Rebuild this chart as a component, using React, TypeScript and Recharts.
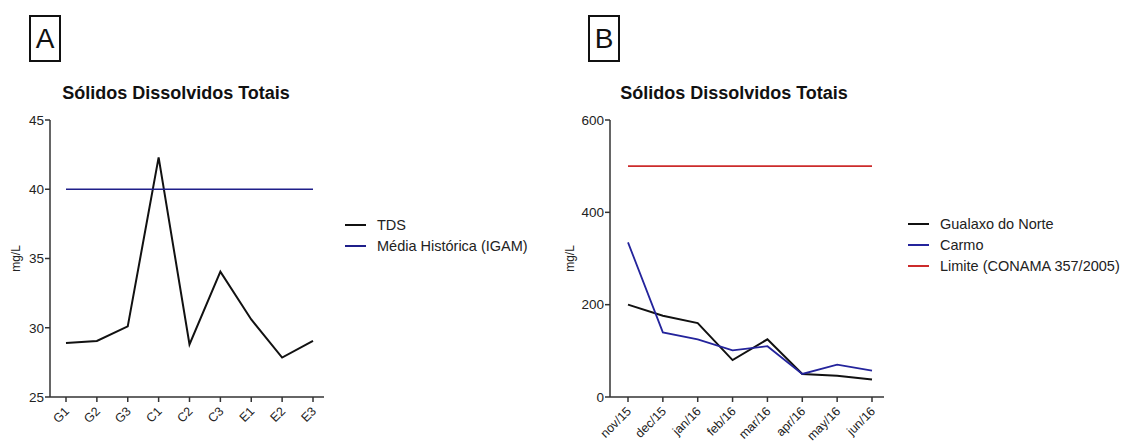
import { CartesianGrid, Legend, Line, LineChart, XAxis, YAxis } from "recharts";

const sitesA = ["G1", "G2", "G3", "C1", "C2", "C3", "E1", "E2", "E3"];
const tds = [28.9, 29.05, 30.1, 42.3, 28.8, 34.05, 30.6, 27.85, 29.05];
const mediaHistorica = 40;
const ticksA = [25, 30, 35, 40, 45];

const monthsB = ["nov/15", "dec/15", "jan/16", "feb/16", "mar/16", "apr/16", "may/16", "jun/16"];
const gualaxo = [200, 176, 160, 80, 125, 50, 46, 38];
const carmo = [335, 140, 125, 101, 110, 50, 70, 57];
const limiteConama = 500;
const ticksB = [0, 200, 400, 600];

const dataA = sitesA.map((s, i) => ({ site: s, tds: tds[i], media: mediaHistorica }));
const dataB = monthsB.map((m, i) => ({ month: m, gualaxo: gualaxo[i], carmo: carmo[i], limite: limiteConama }));

const font = "'Liberation Sans', Arial, sans-serif";
const axisColor = "#333";
const tick = { fill: "#222", fontSize: 13.5, fontFamily: font };

const legendA = [
  { label: "TDS", color: "#111" },
  { label: "Média Histórica (IGAM)", color: "#1f1f8a" },
];
const legendB = [
  { label: "Gualaxo do Norte", color: "#111" },
  { label: "Carmo", color: "#24249c" },
  { label: "Limite (CONAMA 357/2005)", color: "#cc2b2b" },
];

function RotTick({ x, y, payload }: any) {
  return (
    <g transform={`translate(${x + 4},${y + 8})`}>
      <text x={0} y={0} textAnchor="end" transform="rotate(-45)" fill="#222" fontSize={12.5} fontFamily={font}>
        {payload.value}
      </text>
    </g>
  );
}

function LegendBox({ items }: any) {
  return (
    <div style={{ fontFamily: font, fontSize: 14.5, color: "#222" }}>
      {items.map((p: any) => (
        <div key={p.label} style={{ display: "flex", alignItems: "center", height: 21 }}>
          <span style={{ display: "inline-block", width: 21, height: 2, background: p.color, marginRight: 11 }} />
          <span>{p.label}</span>
        </div>
      ))}
    </div>
  );
}

function PanelTag({ letter, left }: { letter: string; left: number }) {
  return (
    <div
      style={{
        position: "absolute",
        left,
        top: 15,
        width: 28,
        height: 43,
        border: "2px solid #111",
        fontFamily: font,
        fontSize: 28,
        lineHeight: "43px",
        textAlign: "center",
        color: "#111",
      }}
    >
      {letter}
    </div>
  );
}

function Title({ center }: { center: number }) {
  return (
    <div
      style={{
        position: "absolute",
        left: center - 150,
        width: 300,
        top: 83,
        textAlign: "center",
        fontFamily: font,
        fontWeight: "bold",
        fontSize: 18,
        color: "#111",
      }}
    >
      Sólidos Dissolvidos Totais
    </div>
  );
}

export default function App() {
  return (
    <div style={{ position: "absolute", left: 0, top: 0, width: 1126, height: 442, background: "#fff" }}>
      <PanelTag letter="A" left={29} />
      <PanelTag letter="B" left={588} />
      <Title center={176} />
      <Title center={734} />

      <div style={{ position: "absolute", left: 0, top: 0 }}>
        <LineChart width={560} height={442} data={dataA} margin={{ top: 120, right: 236, bottom: 0, left: 0 }}>
          <CartesianGrid stroke="none" />
          <XAxis
            dataKey="site"
            height={45}
            padding={{ left: 16, right: 11 }}
            stroke={axisColor}
            strokeWidth={1.5}
            tickSize={5}
            tick={<RotTick />}
            interval={0}
          />
          <YAxis
            width={50}
            domain={[25, 45]}
            ticks={ticksA}
            stroke={axisColor}
            strokeWidth={1.5}
            tickSize={5}
            tickMargin={1}
            tick={tick}
            label={{ value: "mg/L", angle: -90, position: "center", dx: -9, fill: "#222", fontSize: 12, fontFamily: font }}
          />
          <Legend
            layout="vertical"
            align="center"
            verticalAlign="middle"
            content={<LegendBox items={legendA} />}
            wrapperStyle={{ left: 345, top: 214, width: "auto" }}
          />
          <Line type="linear" dataKey="tds" name="TDS" stroke="#111" strokeWidth={2} dot={false} isAnimationActive={false} />
          <Line
            type="linear"
            dataKey="media"
            name="Média Histórica (IGAM)"
            stroke="#1f1f8a"
            strokeWidth={1.6}
            dot={false}
            isAnimationActive={false}
          />
        </LineChart>
      </div>

      <div style={{ position: "absolute", left: 560, top: 0 }}>
        <LineChart width={566} height={442} data={dataB} margin={{ top: 120, right: 242, bottom: 0, left: 0 }}>
          <CartesianGrid stroke="none" />
          <XAxis
            dataKey="month"
            height={45}
            padding={{ left: 18, right: 12 }}
            stroke={axisColor}
            strokeWidth={1.5}
            tickSize={5}
            tick={<RotTick />}
            interval={0}
          />
          <YAxis
            width={50}
            domain={[0, 600]}
            ticks={ticksB}
            stroke={axisColor}
            strokeWidth={1.5}
            tickSize={5}
            tickMargin={1}
            tick={tick}
            label={{ value: "mg/L", angle: -90, position: "center", dx: -15, fill: "#222", fontSize: 12, fontFamily: font }}
          />
          <Legend
            layout="vertical"
            align="center"
            verticalAlign="middle"
            content={<LegendBox items={legendB} />}
            wrapperStyle={{ left: 348, top: 213, width: "auto" }}
          />
          <Line type="linear" dataKey="gualaxo" name="Gualaxo do Norte" stroke="#111" strokeWidth={2} dot={false} isAnimationActive={false} />
          <Line type="linear" dataKey="carmo" name="Carmo" stroke="#24249c" strokeWidth={1.8} dot={false} isAnimationActive={false} />
          <Line
            type="linear"
            dataKey="limite"
            name="Limite (CONAMA 357/2005)"
            stroke="#cc2b2b"
            strokeWidth={1.8}
            dot={false}
            isAnimationActive={false}
          />
        </LineChart>
      </div>
    </div>
  );
}
